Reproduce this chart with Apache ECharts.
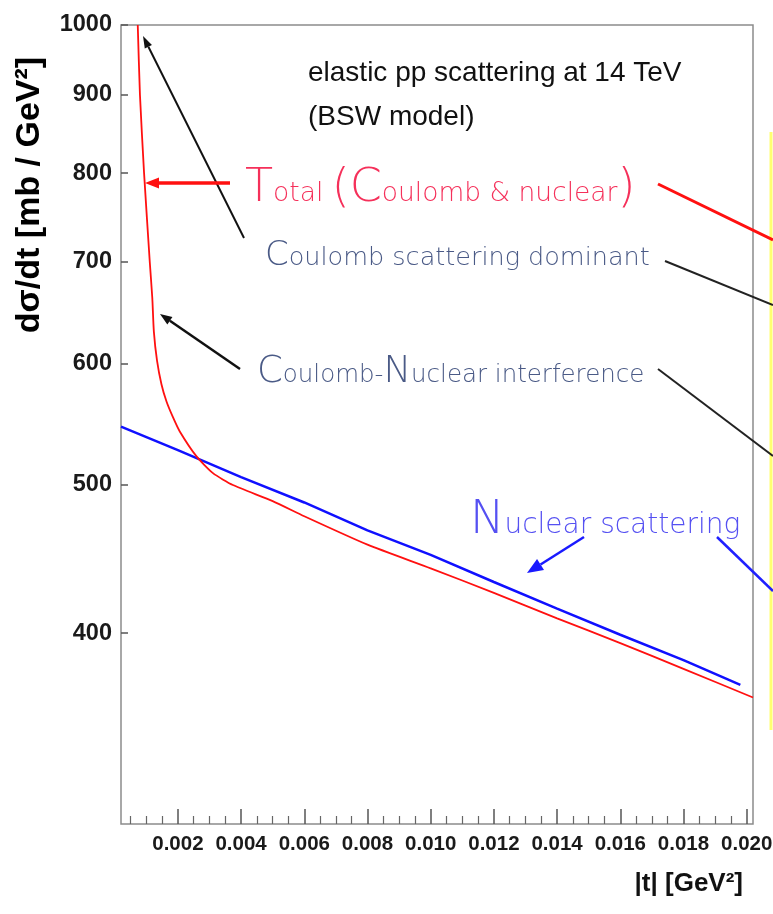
<!DOCTYPE html>
<html><head><meta charset="utf-8">
<script src="https://cdn.jsdelivr.net/npm/echarts@6/dist/echarts.min.js"></script>
<style>html,body{margin:0;padding:0;background:#fff}#c{width:773px;height:914px}</style>
</head><body><div id="c"></div>
<script>
// ---- data ----
const xTickValues = [0.002, 0.004, 0.006, 0.008, 0.010, 0.012, 0.014, 0.016, 0.018, 0.020];
const xMinorTickValues = [0.0005, 0.001, 0.0015, 0.0025, 0.003, 0.0035, 0.0045, 0.005, 0.0055,
  0.0065, 0.007, 0.0075, 0.0085, 0.009, 0.0095, 0.0105, 0.011, 0.0115, 0.0125, 0.013, 0.0135,
  0.0145, 0.015, 0.0155, 0.0165, 0.017, 0.0175, 0.0185, 0.019, 0.0195];
const yTickValues = [400, 500, 600, 700, 800, 900, 1000];

// Total (Coulomb & nuclear)
const totalT = [0.00073, 0.00080, 0.00093, 0.00111, 0.00119, 0.00124, 0.00134, 0.00148, 0.00164,
  0.00184, 0.00206, 0.00259, 0.00311, 0.00374, 0.0050, 0.0060, 0.0080, 0.0100, 0.0120, 0.0140,
  0.0160, 0.0180, 0.0202];
const totalV = [1000, 900, 800, 700, 663, 630, 603, 582, 567, 554, 542, 522, 509, 500, 488, 477,
  457, 441, 425, 409, 394, 379, 363];

// Nuclear scattering
const nuclearT = [0.0002, 0.002, 0.004, 0.006, 0.008, 0.010, 0.012, 0.014, 0.016, 0.018, 0.0198];
const nuclearV = [546, 527, 506, 487, 467, 450, 432, 415, 399, 384, 370];

const xMin = 0.0002, xMax = 0.0202, yMin = 300, yMax = 1000;

// ---- chart ----
const chart = echarts.init(document.getElementById('c'), null, {renderer: 'canvas'});
const tickFont = '"Liberation Sans", Arial, sans-serif';
const gothic = '"DejaVu Sans", sans-serif';

function arrow(x1, y1, x2, y2, color, w, hl, hw) {
  const dx = x2 - x1, dy = y2 - y1, L = Math.hypot(dx, dy);
  const ux = dx / L, uy = dy / L, px = -uy, py = ux;
  const bx = x2 - ux * hl, by = y2 - uy * hl;
  return [
    {type: 'line', shape: {x1, y1, x2: bx, y2: by}, style: {stroke: color, lineWidth: w}, silent: true},
    {type: 'polygon', shape: {points: [[x2, y2], [bx + px * hw / 2, by + py * hw / 2], [bx - px * hw / 2, by - py * hw / 2]]},
      style: {fill: color}, silent: true}
  ];
}
function seg(x1, y1, x2, y2, color, w) {
  return {type: 'line', shape: {x1, y1, x2, y2}, style: {stroke: color, lineWidth: w}, silent: true};
}
function gothicLabel(x, yc, text, big, small, color) {
  const d = 0.26 * (big - small);
  return {
    type: 'text', x: x, y: yc, silent: true,
    style: {
      text: text, textVerticalAlign: 'middle', textAlign: 'left',
      rich: {
        b: {fontSize: big, fontFamily: gothic, fontWeight: 200, fill: color},
        s: {fontSize: small, fontFamily: gothic, fontWeight: 200, fill: color, padding: [2 * d, 0, 0, 0]}
      }
    }
  };
}

const graphics = [].concat(
  // right margin annotations
  [seg(771, 132, 771, 730, '#ffff70', 3)],
  [seg(658, 184, 773, 240, '#ff1010', 3)],
  [seg(665, 261, 773, 305, '#222', 2)],
  [seg(658, 369, 773, 456, '#222', 2)],
  [seg(717, 537, 773, 591, '#2020ff', 2.5)],
  // arrows
  arrow(244, 238, 143, 36, '#111', 2, 12, 8),
  arrow(230, 183, 145, 183, '#ff1010', 3.5, 14, 11),
  arrow(240, 369, 160, 314, '#111', 2.5, 12, 9),
  arrow(584, 537, 527, 573, '#1a1aff', 2.5, 16, 13),
  [
    {type: 'text', x: 308, y: 73, silent: true,
      style: {text: 'elastic pp scattering at 14 TeV', font: '28px "Liberation Sans", Arial, sans-serif',
        fill: '#111', textVerticalAlign: 'middle'}},
    {type: 'text', x: 308, y: 117, silent: true,
      style: {text: '(BSW model)', font: '28px "Liberation Sans", Arial, sans-serif',
        fill: '#111', textVerticalAlign: 'middle'}},
    gothicLabel(245, 189, '{b|T}{s|otal }{b|(C}{s|oulomb & nuclear}{b|)}', 46, 26.5, '#f5305a'),
    gothicLabel(265, 256, '{b|C}{s|oulomb scattering dominant}', 34, 25.5, '#4a5a86'),
    gothicLabel(257, 372, '{b|C}{s|oulomb-}{b|N}{s|uclear interference}', 37, 24.5, '#4a5a86'),
    gothicLabel(470, 521, '{b|N}{s|uclear scattering}', 46, 28, '#5550f2'),
    {type: 'text', x: 30, y: 195, rotation: Math.PI / 2, silent: true,
      style: {text: 'dσ/dt [mb / GeV²]', font: 'bold 34px "Liberation Sans", Arial, sans-serif',
        fill: '#000', textAlign: 'center', textVerticalAlign: 'middle'}},
    {type: 'text', x: 743, y: 884, silent: true,
      style: {text: '|t| [GeV²]', font: 'bold 26px "Liberation Sans", Arial, sans-serif',
        fill: '#111', textAlign: 'right', textVerticalAlign: 'middle'}}
  ]
);

chart.setOption({
  animation: false,
  backgroundColor: '#fff',
  grid: {left: 121, right: 20, top: 25, bottom: 90, show: true, containLabel: false, outerBoundsMode: 'none',
    borderColor: '#8c8c8c', borderWidth: 1.5},
  xAxis: [
    {type: 'value', min: xMin, max: xMax, position: 'bottom',
      axisLine: {show: false}, splitLine: {show: false},
      axisTick: {inside: true, length: 15, customValues: xTickValues, lineStyle: {color: '#555', width: 1.5}},
      axisLabel: {customValues: xTickValues, formatter: v => v.toFixed(3), margin: 10, hideOverlap: false,
        fontFamily: tickFont, fontSize: 20.5, fontWeight: 'bold', color: '#1a1a1a'}},
    {type: 'value', min: xMin, max: xMax, position: 'bottom',
      axisLine: {show: false}, splitLine: {show: false},
      axisTick: {inside: true, length: 8, customValues: xMinorTickValues, lineStyle: {color: '#666', width: 1.2}},
      axisLabel: {show: false}}
  ],
  yAxis: {
    type: 'log', logBase: 10, min: yMin, max: yMax,
    axisLine: {show: false}, splitLine: {show: false}, minorTick: {show: false},
    axisTick: {inside: true, length: 7, customValues: yTickValues, lineStyle: {color: '#555', width: 1.5}},
    axisLabel: {customValues: yTickValues, formatter: v => String(Math.round(v)), margin: 9,
      fontFamily: tickFont, fontSize: 23.5, fontWeight: 'bold', color: '#1a1a1a'}
  },
  series: [
    {name: 'Nuclear scattering', type: 'line', xAxisIndex: 0, showSymbol: false,
      data: nuclearT.map((t, i) => [t, nuclearV[i]]),
      lineStyle: {color: '#1010ff', width: 2.5}, z: 2},
    {name: 'Total (Coulomb & nuclear)', type: 'line', xAxisIndex: 0, showSymbol: false,
      smooth: 0.2,
      data: totalT.map((t, i) => [t, totalV[i]]),
      lineStyle: {color: '#ff1010', width: 1.8}, z: 3}
  ],
  graphic: graphics
});
</script>
</body></html>
